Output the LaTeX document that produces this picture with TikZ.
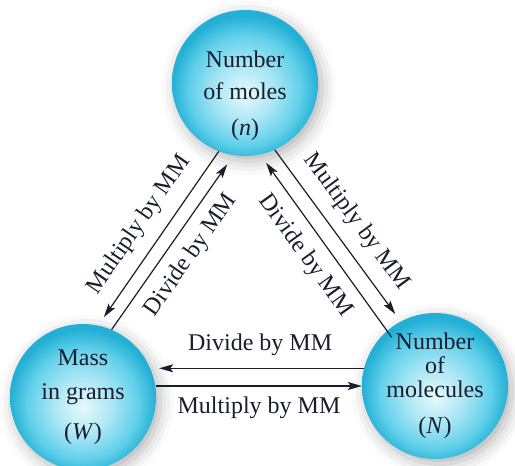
\documentclass[tikz,border=0pt]{standalone}
\usepackage{fontspec}
\setmainfont{Liberation Serif}
\usetikzlibrary{arrows.meta, shadows.blur}
\definecolor{bubedge}{RGB}{36,176,214}
\definecolor{bubmid}{RGB}{96,208,234}
\definecolor{bubcore}{RGB}{230,249,253}
\definecolor{inkdark}{RGB}{25,30,45}
\pgfdeclareradialshading{bubshade}{\pgfpoint{0bp}{-4bp}}{%
  color(0bp)=(bubcore); color(10bp)=(bubcore!55!bubmid);
  color(19bp)=(bubmid); color(25bp)=(bubedge); color(50bp)=(bubedge)}
\tikzset{
  bubble/.style={circle, minimum size=146pt, inner sep=0pt, align=center,
    shading=bubshade, font=\fontsize{24}{26}\selectfont, text=inkdark,
    blur shadow={shadow xshift=4pt, shadow yshift=-5pt,
      shadow blur radius=14pt, shadow opacity=30}},
  arrow/.style={-{Stealth[length=14pt,width=8pt,inset=3pt]}, line width=1.2pt, color=inkdark},
  lbl/.style={font=\fontsize{24}{26}\selectfont, text=inkdark, inner sep=3pt}
}

\begin{document}
\begin{tikzpicture}[x=1pt, y=-1pt]
  \useasboundingbox (0,0) rectangle (515,466);
  % the three quantities
  \node[bubble] (moles) at (245,83) {\rule{0pt}{42pt}Number\\[6pt]of moles\\[10pt](\textit{n})};
  \node[bubble] (mass) at (83,397) {Mass\\[8pt]in grams\\[14pt](\textit{W})};
  \node[bubble] (molec) at (435,386) {Number\\[-2pt]of\\[-2pt]molecules\\[10pt](\textit{N})};
  % moles <-> mass
  \draw[arrow, shorten >=10pt] (moles.249) -- node[lbl, sloped, above=9pt] {Multiply by MM} (mass.78);
  \draw[arrow, shorten >=11pt] (mass.67) -- node[lbl, sloped, below=8pt] {Divide by MM} (moles.261);
  % moles <-> molecules
  \draw[arrow, shorten >=9pt] (moles.294) -- node[lbl, sloped, above=9pt] {Multiply by MM} (molec.118);
  \draw[arrow, shorten >=10pt, shorten <=-8pt] (molec.131) -- node[lbl, sloped, below=8pt] {Divide by MM} (moles.282);
  % molecules <-> mass
  \draw[arrow, shorten >=3pt] (molec.166) -- node[lbl, above=9pt] {Divide by MM} (molec.166 -| mass.east);
  \draw[arrow] (mass.east |- molec.west) -- node[lbl, below=7pt] {Multiply by MM} (molec.west);
\end{tikzpicture}
\end{document}
